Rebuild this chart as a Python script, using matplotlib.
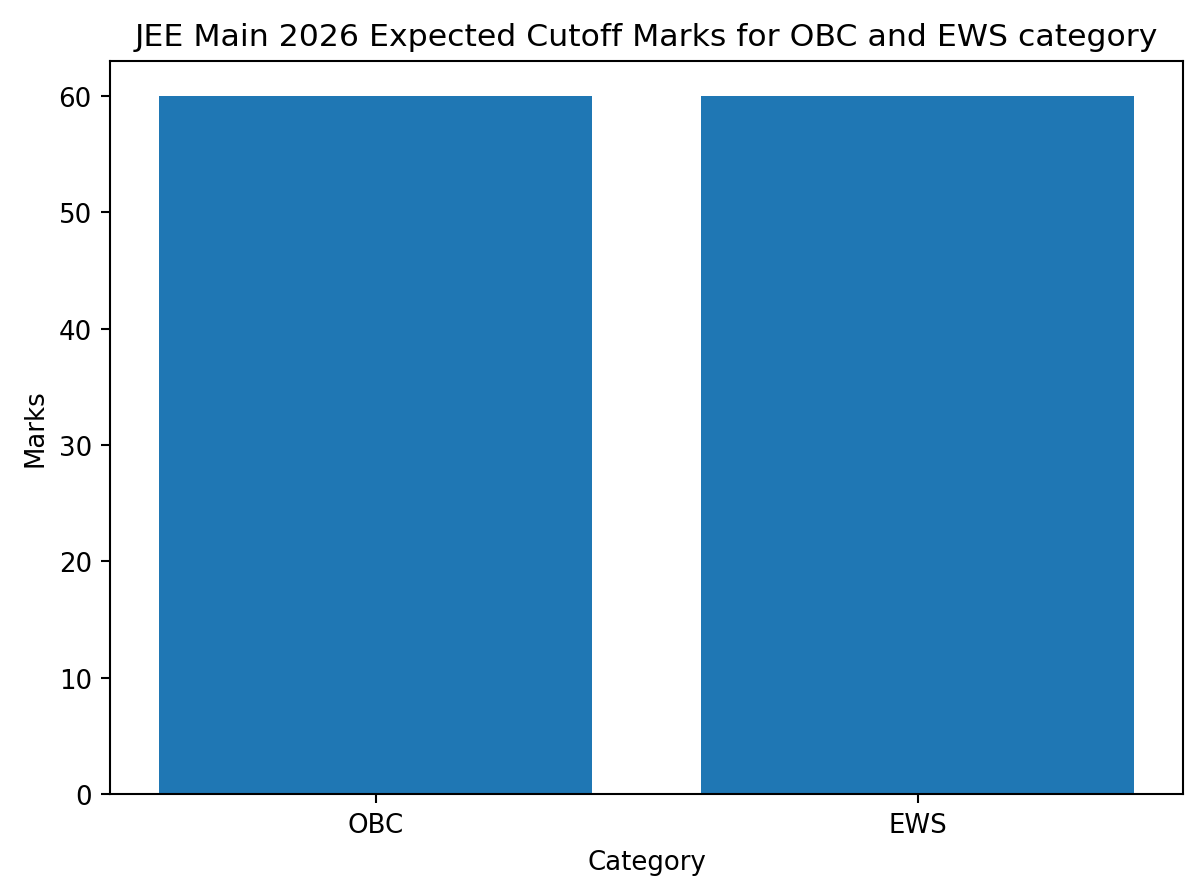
import matplotlib
matplotlib.use("Agg")
import matplotlib.pyplot as plt

categories = ["OBC", "EWS"]
marks = [60, 60]

fig, ax = plt.subplots(figsize=(6.4, 4.773), dpi=187.5)
ax.bar(categories, marks, color="#1f77b4")
ax.set_title("JEE Main 2026 Expected Cutoff Marks for OBC and EWS category",
             fontsize=12.1)
ax.set_xlabel("Category")
ax.set_ylabel("Marks")

fig.subplots_adjust(left=0.0917, right=0.986, top=0.9307, bottom=0.1117)
plt.savefig("out.png", dpi=187.5)
